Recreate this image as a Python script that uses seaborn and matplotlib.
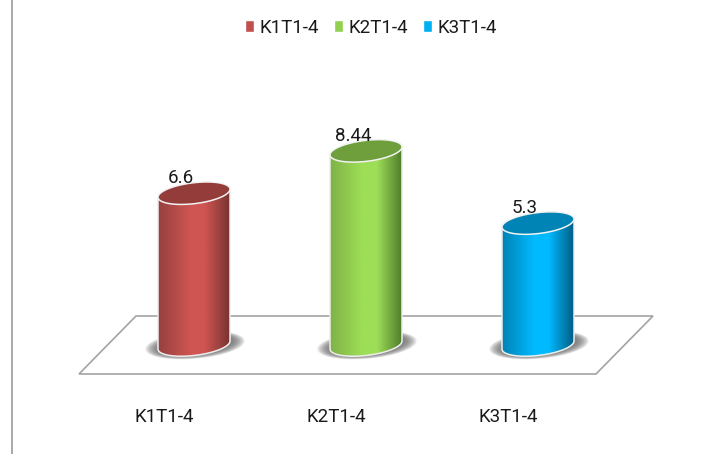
# %% kütüphaneler ve veri
import numpy as np
import pandas as pd
import matplotlib
matplotlib.use("Agg")
import matplotlib.pyplot as plt
import seaborn as sns
from matplotlib.colors import LinearSegmentedColormap
from matplotlib.patches import Polygon, PathPatch
from matplotlib.path import Path
from matplotlib.transforms import ScaledTranslation

kategoriler = ["K1T1-4", "K2T1-4", "K3T1-4"]
degerler = [6.6, 8.44, 5.3]

renkler = ["#c0504d", "#92d050", "#00b0f0"]
gradyan_sol = ["#95413f", "#7fb246", "#0082b4"]
gradyan_orta = ["#cf5552", "#9ede57", "#00baff"]
gradyan_sag = ["#773331", "#4f7d2c", "#005c84"]
kapak = ["#943c3a", "#6f9e3c", "#0083b5"]

sns.set_theme(style="white")
plt.rcParams["font.family"] = ["Roboto", "DejaVu Sans"]

W, H = 710, 454
fig = plt.figure(figsize=(W / 100, H / 100), dpi=100)
ax = fig.add_axes([12 / W, (H - 375) / H, (W - 12) / W, 375 / H])

veri = pd.DataFrame({"kategori": kategoriler, "deger": degerler})
sns.barplot(data=veri, x="kategori", y="deger", hue="kategori",
            palette=renkler, width=72 / 172, saturation=1, legend=True, ax=ax,
            zorder=2)

# eksen ölçeği: kategori arası 172 px, bir birim 23 px
px, py = 1 / 172, 1 / 23
xlim = (-182 * px, 516 * px)
ylim = (-30 * py, 345 * py)
egim = 4 * py      # elipsin sağa doğru yükselmesi
yari_boy = 10.5 * py


def elips(cx, cy, a, b, k, t):
    return np.column_stack([cx + a * np.cos(t), cy + b * np.sin(t) + k * np.cos(t)])


# %% zemin
ax.add_patch(Polygon([(-115 * px, -29 * py), (402 * px, -29 * py),
                      (459 * px, 29 * py), (-58 * px, 29 * py)],
                     closed=True, facecolor="white", edgecolor="#a3a3a3", lw=1.2,
                     zorder=1, clip_on=False))

# %% silindirler
for i, cubuk in enumerate(ax.patches[:3]):
    cx = cubuk.get_x() + cubuk.get_width() / 2
    a = cubuk.get_width() / 2
    ust = cubuk.get_height()

    # gölge, üst üste binen elipslerle yumuşatıldı
    for s in np.linspace(1.06, 0.8, 14):
        t = np.linspace(0, 2 * np.pi, 80)
        ax.add_patch(Polygon(elips(cx + 1 * px, 0, 47 * px * s, 13 * py * s, egim, t),
                             facecolor="#666666", edgecolor="none", alpha=0.1, zorder=1.5))

    alt_yay = elips(cx, 0, a, yari_boy, egim, np.linspace(np.pi, 2 * np.pi, 60))
    ust_yay = elips(cx, ust, a, yari_boy, egim, np.linspace(0, np.pi, 60))
    govde = np.vstack([alt_yay, ust_yay, alt_yay[:1]])
    yol = Path(govde)
    cubuk.set_clip_path(yol, ax.transData)

    cmap = LinearSegmentedColormap.from_list(
        "g", [(0, gradyan_sol[i]), (0.45, gradyan_orta[i]), (0.65, gradyan_orta[i]), (1, gradyan_sag[i])])
    resim = ax.imshow(np.linspace(0, 1, 256).reshape(1, -1), cmap=cmap, aspect="auto",
                      extent=(cx - a, cx + a, -1, ust + 1), interpolation="bilinear", zorder=2.5)
    resim.set_clip_path(PathPatch(yol, transform=ax.transData))

    ax.plot(np.r_[ust_yay[-1:, 0], alt_yay[:, 0], ust_yay[:1, 0]],
            np.r_[ust_yay[-1:, 1], alt_yay[:, 1], ust_yay[:1, 1]],
            color="#eeeeee", lw=1.1, zorder=2.7, solid_capstyle="round")
    ax.add_patch(Polygon(elips(cx, ust, a, yari_boy, egim, np.linspace(0, 2 * np.pi, 100)),
                         facecolor=kapak[i], edgecolor="#f2f2f2", lw=1.1, zorder=2.8))

    # değer etiketi
    ax.annotate(f"{degerler[i]:g}", (cx, ust), xytext=(-13 * 0.72, 15 * 0.72),
                textcoords="offset points", ha="center", va="center",
                fontsize=13.5, color="#1a1a1a", zorder=4)

# %% eksenler
ax.set_xlim(xlim)
ax.set_ylim(ylim)
ax.set_xlabel("")
ax.set_ylabel("")
ax.set_yticks([])
ax.set_xticks(range(3), kategoriler)
ax.tick_params(axis="x", length=0, pad=24, labelsize=13.5, labelcolor="#1a1a1a")
kaydir = ScaledTranslation(-30 / 100, 0, fig.dpi_scale_trans)
for etiket in ax.get_xticklabels():
    etiket.set_transform(etiket.get_transform() + kaydir)

sns.despine(ax=ax, top=True, right=True, bottom=True, left=False)
ax.spines["left"].set_color("#9a9a9a")
ax.spines["left"].set_linewidth(1.2)
ax.spines["left"].set_bounds(-109 * py, ylim[1])

sns.move_legend(ax, "center", bbox_to_anchor=(371 / W, (H - 28) / H),
                bbox_transform=fig.transFigure, ncol=3, frameon=False, title=None,
                fontsize=13.5, handlelength=0.52, handleheight=0.62, handletextpad=0.3,
                columnspacing=0.75, labelcolor="#1a1a1a")

fig.savefig("out.png", dpi=100, facecolor="white")
